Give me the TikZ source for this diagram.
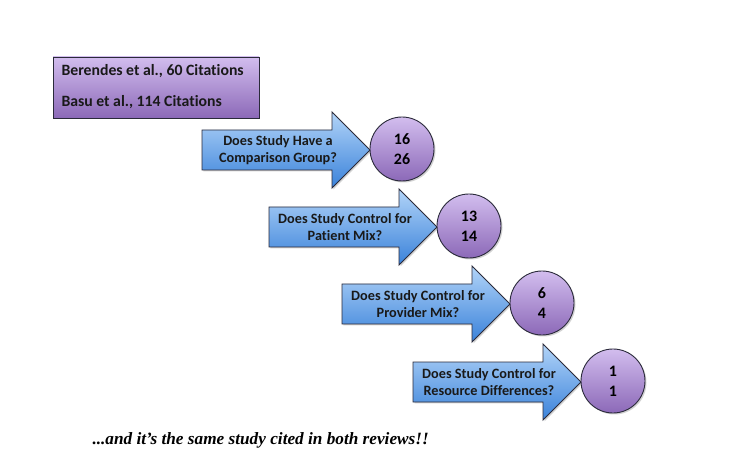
\documentclass[tikz,border=0pt]{standalone}
\usepackage{fontspec}
\setmainfont{Carlito}[Ligatures=NoCommon]
\newfontfamily\notefont{Liberation Serif}
\usetikzlibrary{shadows,calc}
\definecolor{arrtop}{HTML}{B2D4F8}
\definecolor{arrbot}{HTML}{3A82DA}
\definecolor{purtop}{HTML}{D2BDEE}
\definecolor{purbot}{HTML}{8C69B8}
\definecolor{edge}{HTML}{2A2A3A}
\tikzset{
  qarrowstyle/.style={draw=edge, line width=0.9pt, top color=arrtop, bottom color=arrbot,
     drop shadow={shadow xshift=1.5pt, shadow yshift=-1.5pt, opacity=0.35}},
  qtext/.style={font=\bfseries\fontsize{14.3}{17}\selectfont, align=center, text=black!90},
  countcirc/.style={circle, draw=edge, line width=0.9pt, minimum size=64bp, inner sep=0pt,
     top color=purtop, bottom color=purbot, align=center,
     font=\bfseries\fontsize{16}{20}\selectfont,
     drop shadow={shadow xshift=1.5pt, shadow yshift=-1.5pt, opacity=0.35}},
  citebox/.style={draw=edge, line width=0.9pt, top color=purtop, bottom color=purbot,
     drop shadow={shadow xshift=1.5pt, shadow yshift=-1.5pt, opacity=0.35}},
  citetext/.style={font=\bfseries\fontsize{15.8}{19}\selectfont, anchor=west, text=black!90},
}
\newcommand{\qarrow}[5]{%
  \coordinate (#1s) at (#2,#3);
  \path[qarrowstyle] ($(#1s)+(0,-20)$) -- ++(130,0) -- ++(0,-18) -- ($(#1s)+(168,0)$)
     -- ($(#1s)+(130,38)$) -- ++(0,-18) -- ($(#1s)+(0,20)$) -- cycle;
  \node[qtext] (#1t) at ($(#1s)+(76,0)$) {#4};
  \node[countcirc] (#1c) at ($(#1s)+(200,-1)$) {#5};
}
\begin{document}
\begin{tikzpicture}[x=1bp,y=-1bp]
\useasboundingbox[fill=white] (0,0) rectangle (739,459);
\path[citebox] (53,57) rectangle (259,118);
\node[citetext] (cite1) at (58,71) {Berendes et al., 60 Citations};
\node[citetext] (cite2) at (58,102) {Basu et al., 114 Citations};
\qarrow{a}{202}{150}{Does Study Have a\\Comparison Group?}{16\\26}
\qarrow{b}{269}{227}{Does Study Control for\\Patient Mix?}{13\\14}
\qarrow{c}{342}{304}{Does Study Control for\\Provider Mix?}{6\\4}
\qarrow{d}{413}{382}{Does Study Control for\\Resource Differences?}{1\\1}
\node[font=\notefont\bfseries\itshape\fontsize{17.3}{19}\selectfont, anchor=west] (note) at (89,440) {...and it’s the same study cited in both reviews!!};
\end{tikzpicture}
\end{document}
